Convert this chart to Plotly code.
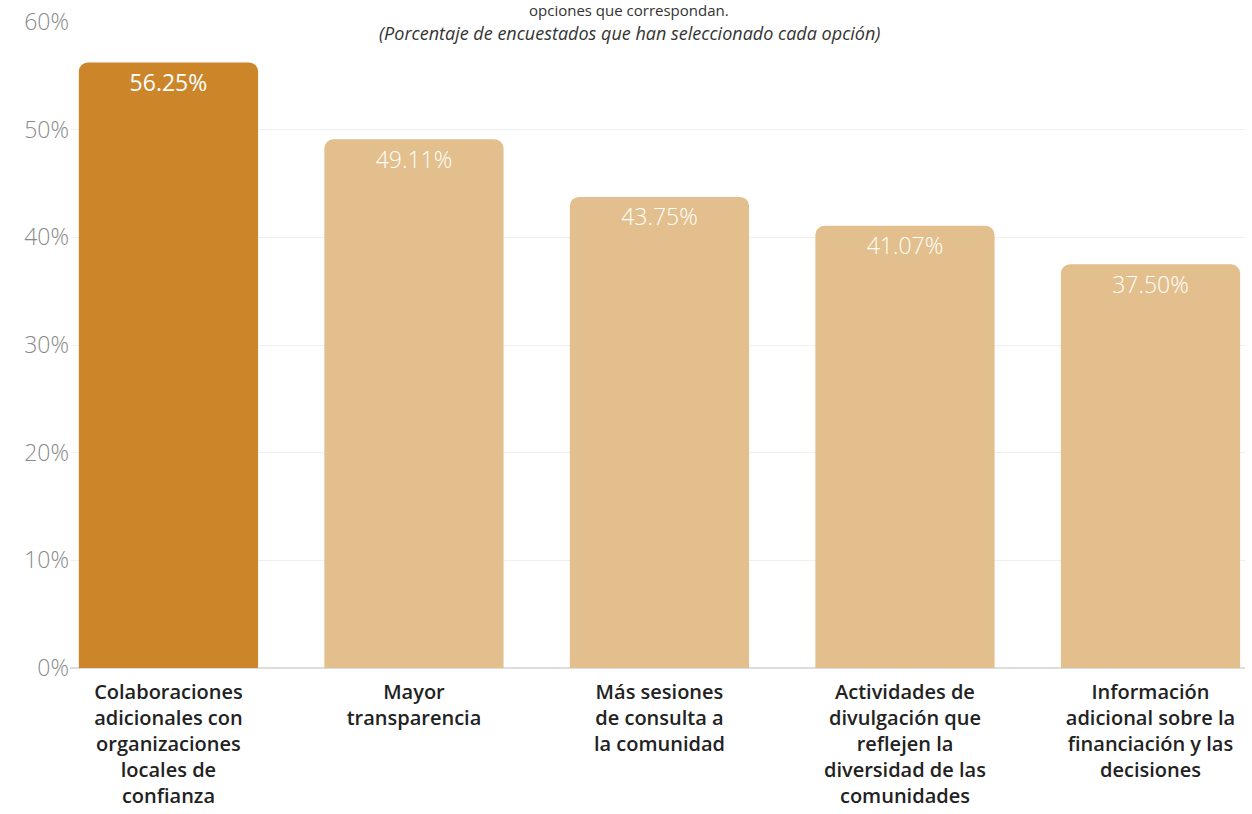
import plotly.graph_objects as go

categories = [
    "Colaboraciones<br>adicionales con<br>organizaciones<br>locales de<br>confianza",
    "Mayor<br>transparencia",
    "Más sesiones<br>de consulta a<br>la comunidad",
    "Actividades de<br>divulgación que<br>reflejen la<br>diversidad de las<br>comunidades",
    "Información<br>adicional sobre la<br>financiación y las<br>decisiones",
]
values = [56.25, 49.11, 43.75, 41.07, 37.50]
bar_colors = ["#CC8529", "#E2BF8C", "#E2BF8C", "#E2BF8C", "#E2BF8C"]
label_weights = [400, 300, 300, 300, 300]
y_ticks = [0, 10, 20, 30, 40, 50, 60]

FONT = "Open Sans"

fig = go.Figure()

# Bars
fig.add_trace(
    go.Bar(
        x=categories,
        y=values,
        marker=dict(color=bar_colors, line=dict(width=0)),
        hoverinfo="skip",
        textposition="none",
    )
)

# Value labels just inside the top of each bar (invisible markers set the offset)
fig.add_trace(
    go.Scatter(
        x=categories,
        y=values,
        mode="markers+text",
        marker=dict(size=16, color="rgba(0,0,0,0)"),
        text=[f"{v:.2f}%" for v in values],
        textposition="bottom center",
        textfont=dict(family=FONT, size=23, color="white", weight=label_weights),
        hoverinfo="skip",
        cliponaxis=False,
    )
)

fig.update_layout(
    width=1252,
    height=814,
    paper_bgcolor="white",
    plot_bgcolor="white",
    margin=dict(l=70, r=7, t=22, b=146),
    bargap=0.27,
    barcornerradius=9,
    showlegend=False,
    font=dict(family=FONT),
    xaxis=dict(
        range=[-0.401, 4.385],
        automargin=False,
        showgrid=False,
        showline=False,
        zeroline=False,
        ticks="outside",
        ticklen=6,
        tickcolor="rgba(0,0,0,0)",
        tickfont=dict(family=FONT, size=20, color="#222222", weight=600),
    ),
    yaxis=dict(
        range=[0, 60],
        automargin=False,
        tickvals=y_ticks,
        ticktext=[f"{v}%" for v in y_ticks],
        showgrid=True,
        gridcolor="#EFEFEF",
        gridwidth=1,
        zeroline=True,
        zerolinecolor="#DDDDDD",
        zerolinewidth=1.5,
        showline=False,
        tickfont=dict(family=FONT, size=23, color="#8A8A8A", weight=300),
    ),
)

fig.add_annotation(
    text="opciones que correspondan.",
    xref="paper", yref="paper", x=0.476, y=1,
    xanchor="center", yanchor="middle", yshift=12,
    showarrow=False,
    borderpad=0,
    font=dict(family=FONT, size=15, color="#333333"),
)
fig.add_annotation(
    text="<i>(Porcentaje de encuestados que han seleccionado cada opción)</i>",
    xref="paper", yref="paper", x=0.476, y=1,
    xanchor="center", yanchor="middle", yshift=-11,
    showarrow=False,
    bgcolor="white",
    borderpad=0,
    font=dict(family=FONT, size=18, color="#333333"),
)

fig.write_html("out.html")
